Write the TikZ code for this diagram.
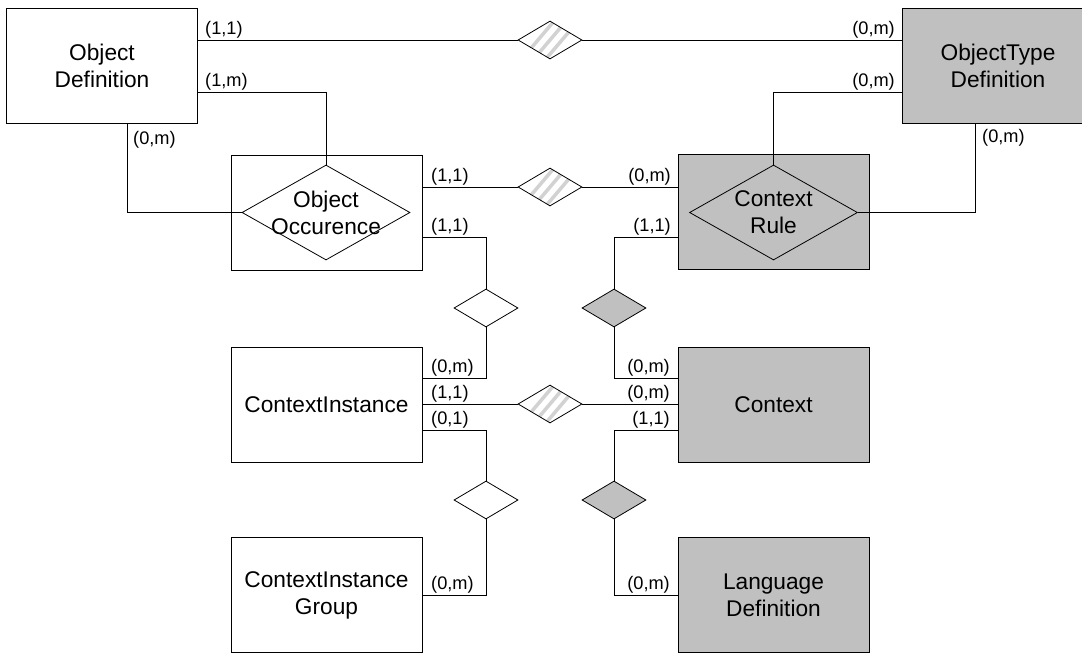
\documentclass[tikz,border=0pt]{standalone}
\usepackage{fontspec}
\setmainfont{Liberation Sans}
\usetikzlibrary{shapes.geometric}
\definecolor{boxgray}{HTML}{C0C0C0}
\definecolor{stripe}{HTML}{D2D2D2}
\begin{document}
\begin{tikzpicture}[x=1pt,y=-1pt,
  ent/.style={draw=black,line width=0.8pt,minimum width=191pt,minimum height=115pt,inner sep=0pt,font=\fontsize{22.7}{27}\selectfont,align=center},
  weak/.style={ent,fill=boxgray},
  rel/.style={draw=black,line width=0.8pt,shape=diamond,minimum width=64pt,minimum height=38pt,inner sep=0pt,fill=white},
  grel/.style={rel,fill=boxgray},
  hrel/.style={rel,path picture={\foreach \dx in {-12,0,12}{\draw[stripe,line width=3.5pt] ([xshift=\dx pt-17pt,yshift=-20pt]path picture bounding box.center) -- ++(34pt,40pt);}}},
  bigrel/.style={draw=black,line width=0.8pt,shape=diamond,minimum width=168pt,minimum height=95pt,inner sep=0pt},
  intext/.style={font=\fontsize{22.7}{27}\selectfont,align=center,inner sep=0pt},
  lbl/.style={font=\fontsize{18.2}{20}\selectfont,inner sep=0pt},
  conn/.style={draw=black,line width=0.8pt}
]
\useasboundingbox (0,0) rectangle (1082,653);
\fill[white] (0,0) rectangle (1082,653);
% entities
\node[ent] (OD) at (102,65.5) {Object\\Definition};
\node[weak] (OTD) at (998,66) {ObjectType\\Definition};
\node[ent] (OO) at (326.5,212.5) {};
\node[bigrel] (OOd) at (326,212.5) {};
\node[intext] (OOt) at (326,212.5) {Object\\Occurence};
\node[weak] (CR) at (773.5,212) {};
\node[bigrel] (CRd) at (773.5,212.5) {};
\node[intext] (CRt) at (773.5,212.5) {Context\\Rule};
\node[ent] (CI) at (326.5,404.5) {ContextInstance};
\node[weak] (CX) at (773.5,404.5) {Context};
\node[ent] (CIG) at (326.5,595) {ContextInstance\\Group};
\node[weak] (LD) at (773.5,595) {Language\\Definition};
% relationships
\node[hrel] (d1) at (550,40) {};
\node[hrel] (d2) at (550,187) {};
\node[rel] (d3) at (486,308) {};
\node[grel] (d4) at (614,308) {};
\node[hrel] (d5) at (550,404) {};
\node[rel] (d6) at (486,500) {};
\node[grel] (d7) at (614,500) {};
% connectors
\draw[conn] (OD.east |- d1.west) -- (d1.west);
\draw[conn] (d1.east) -- (d1.east -| OTD.west);
\draw[conn] (OD.east |- 0,92) -| (OOd.north);
\draw[conn] (OD.south -| 127,0) |- (OOd.west);
\draw[conn] (OTD.west |- 0,92) -| (CRd.north);
\draw[conn] (CRd.east) -| (OTD.south -| 975,0);
\draw[conn] (OO.east |- d2.west) -- (d2.west);
\draw[conn] (d2.east) -- (d2.east -| CR.west);
\draw[conn] (OO.east |- 0,237) -| (d3.north);
\draw[conn] (d3.south) |- (CI.east |- 0,378);
\draw[conn] (CR.west |- 0,237) -| (d4.north);
\draw[conn] (d4.south) |- (CX.west |- 0,378);
\draw[conn] (CI.east |- d5.west) -- (d5.west);
\draw[conn] (d5.east) -- (d5.east -| CX.west);
\draw[conn] (CI.east |- 0,430) -| (d6.north);
\draw[conn] (d6.south) |- (CIG.east |- 0,595);
\draw[conn] (CX.west |- 0,430) -| (d7.north);
\draw[conn] (d7.south) |- (LD.west |- 0,595);
% cardinality labels
\node[lbl,anchor=south west] (l1) at (205,38) {(1,1)};
\node[lbl,anchor=south west] (l2) at (205,90) {(1,m)};
\node[lbl,anchor=north west] (l3) at (133,131) {(0,m)};
\node[lbl,anchor=south west] (l4) at (431,185) {(1,1)};
\node[lbl,anchor=south west] (l5) at (431,235) {(1,1)};
\node[lbl,anchor=south east] (l6) at (895,38) {(0,m)};
\node[lbl,anchor=south east] (l7) at (895,90) {(0,m)};
\node[lbl,anchor=north west] (l8) at (982,129) {(0,m)};
\node[lbl,anchor=south east] (l9) at (671,185) {(0,m)};
\node[lbl,anchor=south east] (l10) at (671,235) {(1,1)};
\node[lbl,anchor=south west] (l11) at (431,376) {(0,m)};
\node[lbl,anchor=south west] (l12) at (431,402) {(1,1)};
\node[lbl,anchor=south west] (l13) at (431,428) {(0,1)};
\node[lbl,anchor=south east] (l14) at (670,376) {(0,m)};
\node[lbl,anchor=south east] (l15) at (670,402) {(0,m)};
\node[lbl,anchor=south east] (l16) at (670,428) {(1,1)};
\node[lbl,anchor=south west] (l17) at (431,593) {(0,m)};
\node[lbl,anchor=south east] (l18) at (670,593) {(0,m)};
\end{tikzpicture}
\end{document}
